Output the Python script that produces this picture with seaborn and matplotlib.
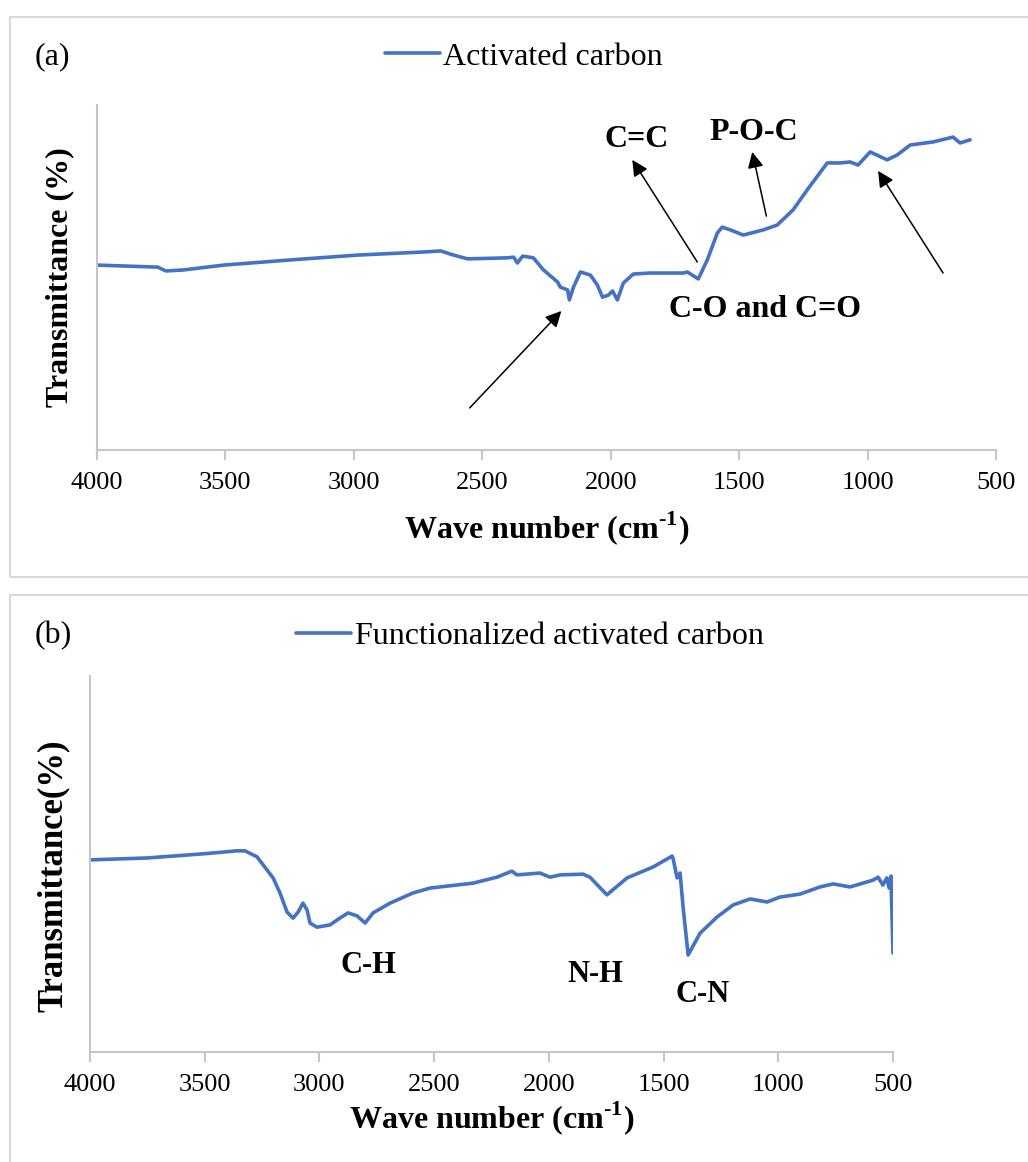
import matplotlib
matplotlib.use("Agg")
import matplotlib.pyplot as plt
from matplotlib.patches import Rectangle
import seaborn as sns
import pandas as pd

# ---------------- data ----------------
# Panel (a): Activated carbon
wave_a = [4000, 3763, 3732, 3662, 3506, 3246, 2985, 2728, 2662, 2612, 2557, 2402,
          2378, 2363, 2343, 2301, 2262, 2207, 2196, 2168, 2161, 2145, 2118, 2079,
          2052, 2032, 2009, 1993, 1974, 1951, 1912, 1846, 1717, 1702, 1659, 1624,
          1585, 1566, 1534, 1484, 1406, 1352, 1290, 1235, 1157, 1107, 1068, 1037,
          990, 924, 885, 834, 745, 667, 640, 601]
trans_a = [53.6, 53.0, 51.9, 52.2, 53.6, 55.1, 56.5, 57.4, 57.7, 56.5, 55.4, 55.7,
           55.9, 54.2, 56.2, 55.7, 52.2, 48.7, 47.2, 46.4, 43.5, 47.2, 51.6, 50.7,
           47.8, 44.3, 44.9, 46.1, 43.5, 48.4, 51.0, 51.3, 51.3, 51.6, 49.6, 55.1,
           62.9, 64.6, 63.8, 62.3, 63.8, 65.2, 69.6, 75.4, 83.2, 83.2, 83.5, 82.6,
           86.4, 84.1, 85.5, 88.4, 89.3, 90.7, 89.0, 89.9]

# Panel (b): Functionalized activated carbon
wave_b = [4000, 3752, 3507, 3359, 3324, 3272, 3202, 3172, 3141, 3115, 3093, 3072,
          3054, 3041, 3011, 2954, 2911, 2875, 2836, 2801, 2766, 2692, 2592, 2518,
          2331, 2226, 2161, 2139, 2039, 1995, 1951, 1851, 1821, 1747, 1659, 1546,
          1463, 1459, 1441, 1428, 1415, 1393, 1341, 1267, 1197, 1123, 1049, 993,
          905, 818, 761, 687, 587, 565, 544, 527, 517, 509, 500]
trans_b = [51.1, 51.6, 52.7, 53.5, 53.5, 51.9, 46.3, 42.3, 37.2, 35.6, 37.2, 39.6,
           37.8, 34.3, 33.2, 33.8, 35.6, 37.0, 36.2, 34.3, 37.0, 39.6, 42.3, 43.6,
           44.9, 46.5, 48.1, 47.1, 47.6, 46.5, 47.1, 47.3, 46.5, 41.8, 46.3, 49.2,
           52.1, 51.6, 46.3, 47.6, 38.6, 25.8, 31.6, 35.9, 39.1, 40.7, 39.9, 41.2,
           42.0, 43.9, 44.7, 43.9, 45.7, 46.5, 44.4, 46.3, 43.6, 46.8, 26.3]

x_ticks = [4000, 3500, 3000, 2500, 2000, 1500, 1000, 500]

# annotations (a): label, x, y
labels_a = [("C=C", 1900, 89.9), ("P-O-C", 1445, 91.9), ("C-O and C=O", 1398, 40.6)]
# arrows (a): (tail_x, tail_y, head_x, head_y)
arrows_a = [(2549, 12.2, 2192, 40.3), (1663, 54.5, 1916, 84.1),
            (1394, 67.8, 1449, 86.4), (706, 51.3, 959, 80.9)]
labels_b = [("C-H", 2788, 22.9), ("N-H", 1799, 20.5), ("C-N", 1328, 15.2)]

# ---------------- style ----------------
sns.set_theme(style="white")
plt.rcParams["font.family"] = ["Liberation Serif", "DejaVu Serif"]
plt.rcParams["mathtext.fontset"] = "custom"
plt.rcParams["mathtext.rm"] = "Liberation Serif"
plt.rcParams["mathtext.bf"] = "Liberation Serif:bold"
plt.rcParams["text.color"] = "black"
plt.rcParams["axes.labelcolor"] = "black"
plt.rcParams["xtick.color"] = "black"
plt.rcParams["ytick.color"] = "black"

LINE = "#4472C4"
GRID = "#c6c6c6"
BORDER = "#d9d9d9"

W, H = 1028, 1162
fig = plt.figure(figsize=(W / 100, H / 100), dpi=100)
fig.patch.set_facecolor("white")

# panel borders
fig.add_artist(Rectangle((10 / W, (H - 577) / H), 1.2, (577 - 17) / H,
                         transform=fig.transFigure, fill=False,
                         edgecolor=BORDER, lw=1.5))
fig.add_artist(Rectangle((10 / W, -0.05), 1.2, (H - 595) / H + 0.05,
                         transform=fig.transFigure, fill=False,
                         edgecolor=BORDER, lw=1.5))

XLABEL = "Wave number (cm$^{\\mathbf{\u2010}\\mathbf{1}}$)"


def style_axes(ax):
    ax.set_xlim(4000, 500)
    ax.set_ylim(0, 100)
    ax.set_xticks(x_ticks)
    ax.set_xticklabels([str(t) for t in x_ticks])
    ax.set_yticks([])
    for s in ["top", "right"]:
        ax.spines[s].set_visible(False)
    for s in ["left", "bottom"]:
        ax.spines[s].set_color(GRID)
        ax.spines[s].set_linewidth(1.5)
    ax.tick_params(axis="x", length=7, width=1.5, color=GRID, direction="out",
                   labelsize=19, pad=9, bottom=True, labelcolor="black")


# ---------------- panel (a) ----------------
ax1 = fig.add_axes([97 / W, (H - 450) / H, 899 / W, 345 / H])
df_a = pd.DataFrame({"Wave": wave_a, "T": trans_a})
sns.lineplot(data=df_a, x="Wave", y="T", ax=ax1, color=LINE, lw=2.6,
             sort=False, estimator=None, label="Activated carbon")
style_axes(ax1)
ax1.set_xlabel(XLABEL, fontsize=23, fontweight="bold", color="black")
ax1.xaxis.set_label_coords(0.5, -0.17)
ax1.set_ylabel("Transmittance (%)", fontsize=23, fontweight="bold", color="black")
ax1.yaxis.set_label_coords(-0.025, 0.5)
ax1.legend(loc="center", bbox_to_anchor=(524 / W, (H - 57) / H),
           bbox_transform=fig.transFigure, frameon=False, fontsize=23,
           handlelength=1.72, handletextpad=0.1, labelcolor="black")
for txt, x, y in labels_a:
    ax1.text(x, y, txt, ha="center", va="center", fontsize=23,
             fontweight="bold", color="black")
for tx, ty, hx, hy in arrows_a:
    ax1.annotate("", xy=(hx, hy), xytext=(tx, ty),
                 arrowprops=dict(arrowstyle="-|>", color="black", lw=1.1,
                                 mutation_scale=24, shrinkA=0, shrinkB=0))
fig.text(35 / W, (H - 57) / H, "(a)", ha="left", va="center", fontsize=23,
         color="black")

# ---------------- panel (b) ----------------
ax2 = fig.add_axes([90 / W, (H - 1052) / H, 803 / W, 376 / H])
df_b = pd.DataFrame({"Wave": wave_b, "T": trans_b})
sns.lineplot(data=df_b, x="Wave", y="T", ax=ax2, color=LINE, lw=2.6,
             sort=False, estimator=None, label="Functionalized activated carbon")
style_axes(ax2)
ax2.set_xlabel(XLABEL, fontsize=23, fontweight="bold", color="black")
ax2.xaxis.set_label_coords(0.5, -0.125)
ax2.set_ylabel("Transmittance(%)", fontsize=25, fontweight="bold", color="black")
ax2.yaxis.set_label_coords(-0.025, 0.47)
ax2.legend(loc="center", bbox_to_anchor=(530 / W, (H - 636) / H),
           bbox_transform=fig.transFigure, frameon=False, fontsize=23,
           handlelength=1.72, handletextpad=0.1, labelcolor="black")
for txt, x, y in labels_b:
    ax2.text(x, y, txt, ha="center", va="center", fontsize=22,
             fontweight="bold", color="black")
fig.text(35 / W, (H - 636) / H, "(b)", ha="left", va="center", fontsize=23,
         color="black")

fig.savefig("out.png", dpi=100, facecolor="white")
